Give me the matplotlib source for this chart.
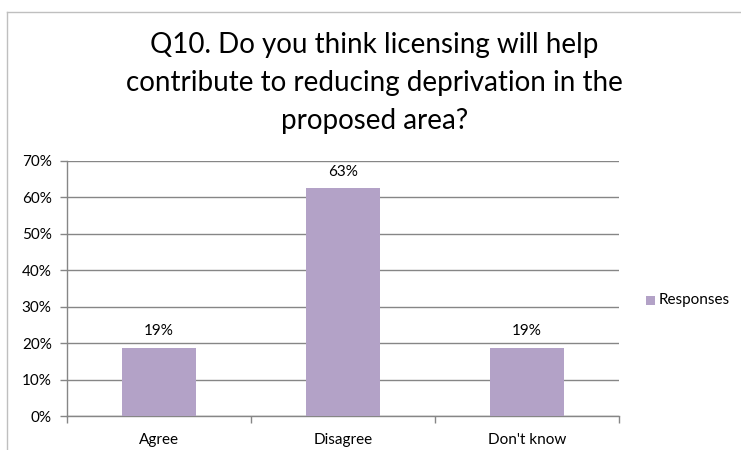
import matplotlib.pyplot as plt
from matplotlib.patches import Rectangle
from matplotlib.lines import Line2D

categories = ["Agree", "Disagree", "Don't know"]
responses = [0.1875, 0.625, 0.1875]
labels = ["19%", "63%", "19%"]
yticks = [0.0, 0.1, 0.2, 0.3, 0.4, 0.5, 0.6, 0.7]
title = "Q10. Do you think licensing will help\ncontribute to reducing deprivation in the\nproposed area?"

bar_color = "#b3a2c7"
axis_color = "#868686"
small = 11

plt.rcParams['font.family'] = ['Lato', 'DejaVu Sans']

fig = plt.figure(figsize=(7.41, 4.5), dpi=100)
W, H = 741, 450

# outer chart border (clipped at right and bottom)
fig.add_artist(Line2D([7 / W, 7 / W], [0, 1 - 12 / H], transform=fig.transFigure,
                      color="#bfbfbf", lw=1))
fig.add_artist(Line2D([7 / W, 1], [1 - 12 / H, 1 - 12 / H], transform=fig.transFigure,
                      color="#bfbfbf", lw=1))

left, right, top, bottom = 67, 619, 161, 416
ax = fig.add_axes([left / W, 1 - bottom / H, (right - left) / W, (bottom - top) / H])

x = range(len(categories))
ax.bar(x, responses, width=0.4, color=bar_color, zorder=3)
for xi, v, lab in zip(x, responses, labels):
    ax.text(xi, v + 0.026, lab, ha="center", va="bottom", fontsize=small, color="#000000")

ax.set_xlim(-0.5, 2.5)
ax.set_ylim(0, 0.7)
ax.set_yticks(yticks)
ax.set_yticklabels([f"{int(round(t * 100))}%" for t in yticks], fontsize=small)
ax.yaxis.grid(True, color=axis_color, lw=1, zorder=0)

# category labels sit between boundary tick marks
ax.set_xticks([-0.5, 0.5, 1.5, 2.5])
ax.set_xticklabels([])
ax.set_xticks(list(x), minor=True)
ax.set_xticklabels(categories, minor=True, fontsize=small)
ax.tick_params(axis="x", which="minor", length=0, pad=12)
ax.tick_params(axis="x", which="major", length=5, color=axis_color, width=1)
ax.tick_params(axis="y", length=5, color=axis_color, width=1, pad=6)

for s in ["top", "right"]:
    ax.spines[s].set_visible(False)
for s in ["left", "bottom"]:
    ax.spines[s].set_color(axis_color)
    ax.spines[s].set_linewidth(1)

fig.text(0.5 + 4 / W, 1 - 83 / H, title, ha="center", va="center", fontsize=20,
         linespacing=1.55)

# legend
fig.add_artist(Rectangle((646 / W, 1 - 305 / H), 9 / W, 9 / H, transform=fig.transFigure,
                         facecolor=bar_color, edgecolor="none"))
fig.text(659 / W, 1 - 300 / H, "Responses", ha="left", va="center", fontsize=small)

fig.savefig("out.png", dpi=100)
